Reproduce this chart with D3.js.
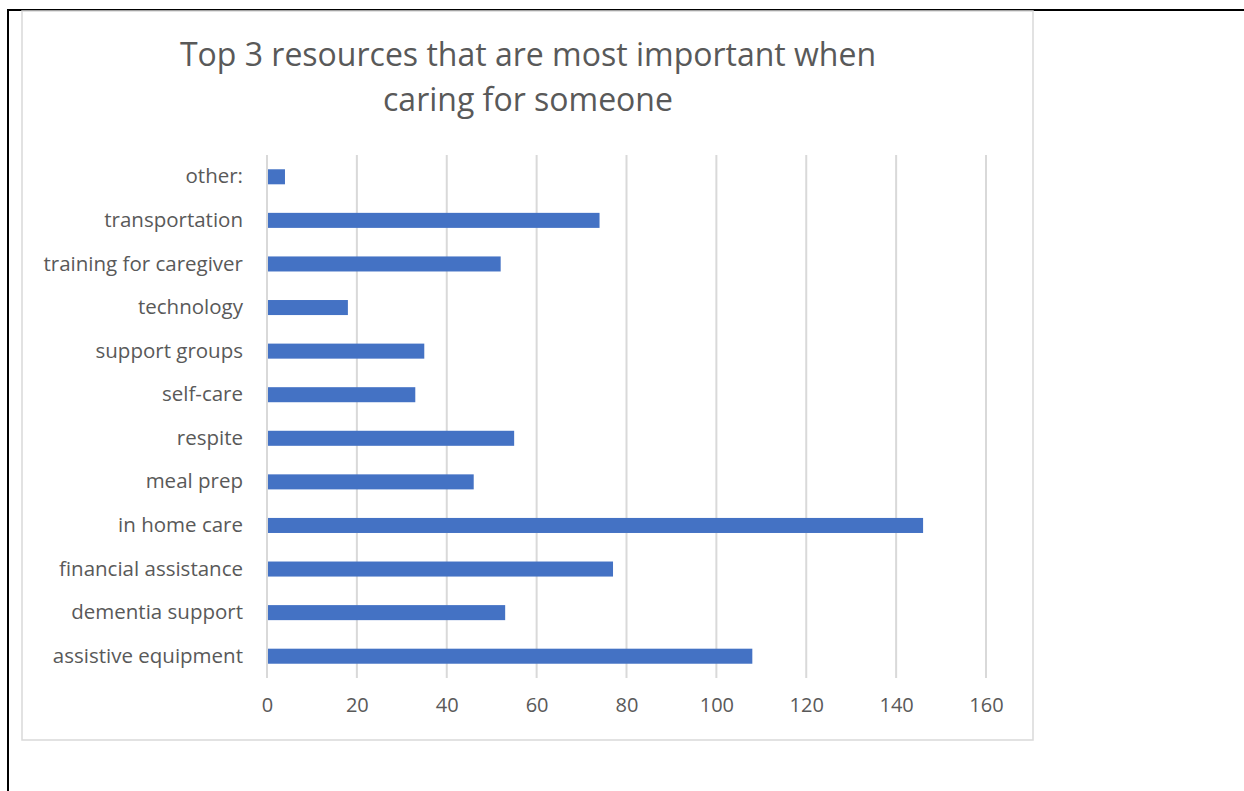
<!DOCTYPE html>
<html>
<head>
<meta charset="utf-8">
<script src="https://cdn.jsdelivr.net/npm/d3@7"></script>
<style>
  html, body { margin: 0; padding: 0; background: #fff; }
  svg { display: block; }
  text { font-family: "Open Sans", Lato, sans-serif; fill: #595959; }
</style>
</head>
<body>
<svg id="chart" width="1244" height="791"></svg>
<script>
// data, Excel order (bottom to top)
let categories = ['assistive equipment', 'dementia support', 'financial assistance', 'in home care',
  'meal prep', 'respite', 'self-care', 'support groups', 'technology', 'training for caregiver',
  'transportation', 'other:'];
let counts = [108, 53, 77, 146, 46, 55, 33, 35, 18, 52, 74, 4];
let xTicks = [0, 20, 40, 60, 80, 100, 120, 140, 160];
let titleLines = ['Top 3 resources that are most important when', 'caring for someone'];

let barColor = '#4472C4';
let gridColor = '#d9d9d9';
let fontStack = '"Open Sans", Lato, sans-serif';
let plotLeft = 267;
let plotRight = 986;
let plotTop = 155;
let plotBottom = 678;

const svg = d3.select('#chart');

// page frame (document table border)
svg.append('line')
  .attr('x1', 7).attr('x2', 1244)
  .attr('y1', 10).attr('y2', 10)
  .style('stroke', '#000').style('stroke-width', 2);
svg.append('line')
  .attr('x1', 8).attr('x2', 8)
  .attr('y1', 9).attr('y2', 791)
  .style('stroke', '#000').style('stroke-width', 2);

// chart area border
svg.append('rect')
  .attr('x', 22).attr('y', 11)
  .attr('width', 1011).attr('height', 729)
  .style('fill', 'none')
  .style('stroke', gridColor)
  .style('stroke-width', 1.5);

// title
svg.append('g')
  .selectAll('text')
  .data(titleLines)
  .enter()
  .append('text')
  .attr('x', 528)
  .attr('y', function (d, i) {
    return 66 + i * 45;
  })
  .attr('text-anchor', 'middle')
  .style('font-size', '32px')
  .text(function (d) { return d; });

let xScale = d3.scaleLinear()
  .domain([0, 160])
  .range([plotLeft, plotRight]);

let yScale = d3.scaleBand()
  .domain(categories.slice().reverse())
  .range([plotTop, plotBottom])
  .paddingInner(0.655)
  .paddingOuter(0.3275);

// gridlines
svg.append('g')
  .selectAll('line')
  .data(xTicks)
  .enter()
  .append('line')
  .attr('x1', function (d) { return xScale(d); })
  .attr('x2', function (d) { return xScale(d); })
  .attr('y1', plotTop)
  .attr('y2', plotBottom)
  .style('stroke', gridColor)
  .style('stroke-width', 2);

// bars
svg.append('g')
  .selectAll('rect')
  .data(categories)
  .enter()
  .append('rect')
  .attr('x', xScale(0) + 1)
  .attr('y', function (d) { return yScale(d); })
  .attr('width', function (d, i) { return xScale(counts[i]) - xScale(0) - 1; })
  .attr('height', yScale.bandwidth())
  .style('fill', barColor);

// x axis labels
let xAxis = d3.axisBottom(xScale)
  .tickValues(xTicks)
  .tickSize(0)
  .tickPadding(20);
let xg = svg.append('g')
  .attr('transform', 'translate(0,' + plotBottom + ')')
  .call(xAxis);
xg.select('.domain').remove();
xg.selectAll('text')
  .style('font-size', '20px')
  .style('font-family', fontStack)
  .attr('fill', '#595959');

// y axis labels
let yAxis = d3.axisLeft(yScale)
  .tickSize(0)
  .tickPadding(24);
let yg = svg.append('g')
  .attr('transform', 'translate(' + plotLeft + ',0)')
  .call(yAxis);
yg.select('.domain').remove();
yg.selectAll('text')
  .style('font-size', '20.5px')
  .style('font-family', fontStack)
  .attr('fill', '#595959');
</script>
</body>
</html>
